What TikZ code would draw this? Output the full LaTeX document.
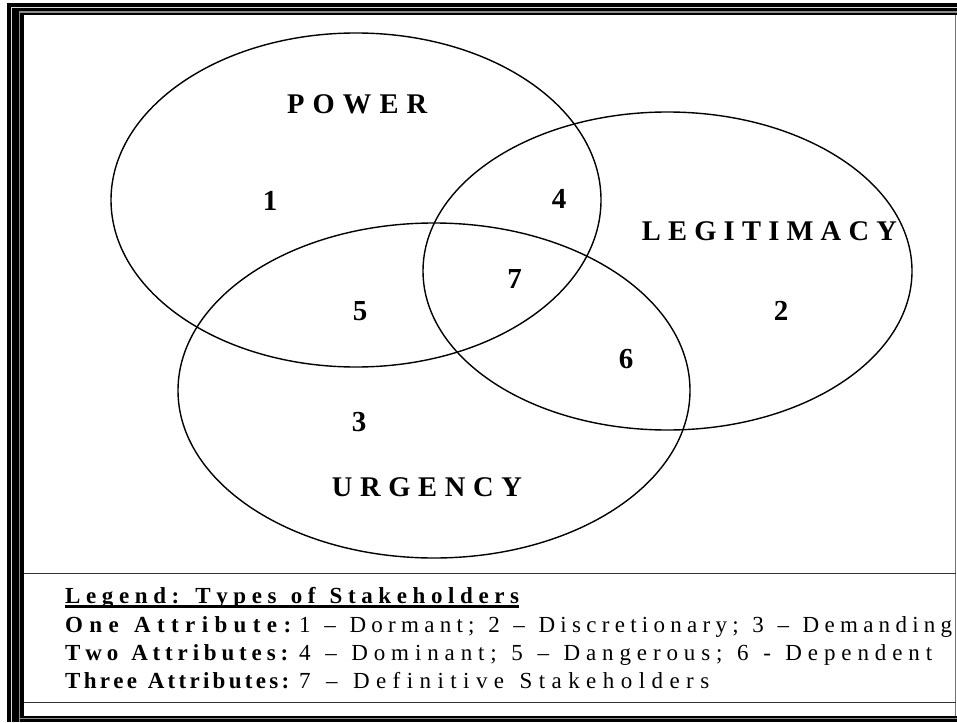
\documentclass[tikz,border=0pt]{standalone}
\usepackage{fontspec}
\setmainfont{Liberation Serif}
\usetikzlibrary{shapes.geometric}

% \fitspaced{width}{text}: sets text letter-spaced evenly to the given width;
% a word gap is a space plus one and a half letter gaps
\ExplSyntaxOn
\dim_new:N \l__fit_gap_dim
\int_new:N \l__fit_count_int
\box_new:N \l__fit_box
\seq_new:N \l__fit_words_seq
\cs_new_protected:Npn \__fit_typeset:
  {
    \seq_map_inline:Nn \l__fit_words_seq
      {
        \tl_map_inline:nn {##1} { ####1 \tex_hskip:D \l__fit_gap_dim \scan_stop: }
        \c_space_tl
        \tex_hskip:D 0.5 \l__fit_gap_dim \scan_stop:
      }
    \tex_unskip:D \tex_unskip:D \tex_unskip:D
  }
\NewDocumentCommand \fitspaced { m m }
  {
    \seq_set_split:Nnn \l__fit_words_seq { ~ } { #2 }
    \dim_zero:N \l__fit_gap_dim
    \hbox_set:Nn \l__fit_box { \__fit_typeset: }
    \int_zero:N \l__fit_count_int
    \seq_map_inline:Nn \l__fit_words_seq
      { \int_add:Nn \l__fit_count_int { 2 * \tl_count:n {##1} + 1 } }
    \int_sub:Nn \l__fit_count_int { 3 }
    \dim_set:Nn \l__fit_gap_dim
      { ( #1 - \box_wd:N \l__fit_box ) * 2 / \l__fit_count_int }
    \__fit_typeset:
  }
\ExplSyntaxOff

\tikzset{
  setellipse/.style={ellipse, draw=black, line width=1.4pt, inner sep=0pt},
  circlelabel/.style={anchor=base west, inner sep=0pt,
    font=\bfseries\fontsize{28.5}{28.5}\selectfont},
  regionnum/.style={anchor=base, inner sep=0pt,
    font=\bfseries\fontsize{29}{29}\selectfont},
  legendline/.style={anchor=base west, inner sep=0pt,
    font=\fontsize{23}{23}\selectfont},
  legendhead/.style={legendline, font=\bfseries\fontsize{23}{23}\selectfont},
  lightrule/.style={line width=1.1pt},
  boxrule/.style={draw=black!80, line width=1pt}
}

\begin{document}
\begin{tikzpicture}[x=1pt,y=-1pt]
  \useasboundingbox (0,0) rectangle (957,722);
  \fill[white] (0,0) rectangle (957,722);

  % frame: thick-thin border, top, left and bottom
  \fill[black] (7,3.5) rectangle (957,15.5);
  \fill[black] (7,3.5) rectangle (23.5,722);
  \fill[black] (7,716) rectangle (957,722);
  \draw[lightrule, white!85!black] (957,7.8) -| (11.8,722);
  \draw[lightrule, black!45] (957,12) -| (19.2,722);
  \draw[lightrule, black!45] (19.2,718.6) -- (957,718.6);
  \draw[black!55, line width=1pt] (955.8,15.5) -- (955.8,716);

  % legend compartment
  \draw[boxrule] (23.5,573.8) -- (955.8,573.8);
  \draw[boxrule] (23.5,702) -- (955.8,702);

  % the three attribute sets
  \node[setellipse, minimum width=490pt, minimum height=334pt] (power) at (356,200) {};
  \node[setellipse, minimum width=489pt, minimum height=318pt] (legit) at (667.5,271) {};
  \node[setellipse, minimum width=512pt, minimum height=335pt] (urgency) at (434,390.5) {};

  % set names
  \node[circlelabel] (powerlbl) at (287,113.3) {\fitspaced{140pt}{POWER}};
  \node[circlelabel] (legitlbl) at (641.7,240.7) {\fitspaced{255pt}{LEGITIMACY}};
  \node[circlelabel] (urgencylbl) at (331.7,496.7) {\fitspaced{190pt}{URGENCY}};

  % region numbers
  \node[regionnum] (r1) at (270,210) {1};
  \node[regionnum] (r2) at (781,320) {2};
  \node[regionnum] (r3) at (359,431.7) {3};
  \node[regionnum] (r4) at (559,208.3) {4};
  \node[regionnum] (r5) at (360,320.7) {5};
  \node[regionnum] (r6) at (626,368.3) {6};
  \node[regionnum] (r7) at (514.6,288.3) {7};

  % legend
  \node[legendhead] (legtitle) at (65,603.7)
    {\fitspaced{454pt}{Legend: Types of Stakeholders}};
  \draw[line width=2.6pt] ([yshift=-2.8pt]legtitle.base west) -- ([yshift=-2.8pt]legtitle.base east);

  \node[legendhead] (onelbl) at (65,632) {\fitspaced{226pt}{One Attribute:}};
  \node[legendline] (onetxt) at (299,632)
    {\fitspaced{653pt}{1 – Dormant; 2 – Discretionary; 3 – Demanding}};

  \node[legendhead] (twolbl) at (65,660) {\fitspaced{223pt}{Two Attributes:}};
  \node[legendline] (twotxt) at (299,660)
    {\fitspaced{633pt}{4 – Dominant; 5 – Dangerous; 6 - Dependent}};

  \node[legendhead] (threelbl) at (65,688.7) {\fitspaced{224pt}{Three Attributes:}};
  \node[legendline] (threetxt) at (299,688.7)
    {\fitspaced{410pt}{7 – Definitive Stakeholders}};
\end{tikzpicture}
\end{document}
